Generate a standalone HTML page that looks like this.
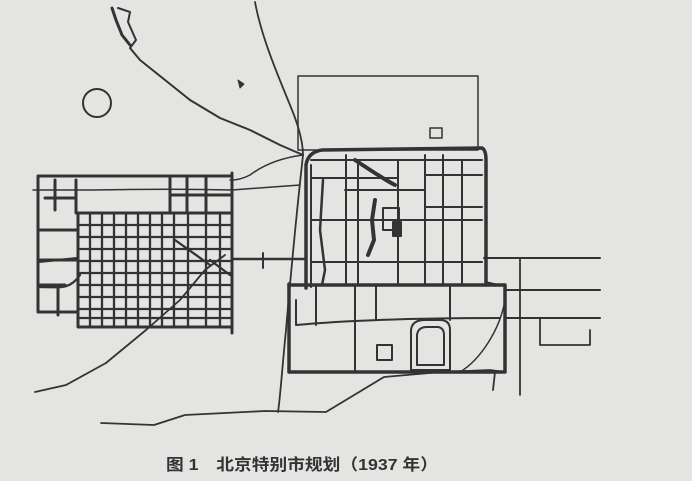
<!DOCTYPE html>
<html><head><meta charset="utf-8"><style>
html,body{margin:0;padding:0;background:#e4e4e2;}
svg{display:block}
</style></head><body>
<svg width="692" height="481" viewBox="0 0 692 481" xmlns="http://www.w3.org/2000/svg">
<rect width="692" height="481" fill="#e4e4e2"/>
<g stroke="#333" fill="none" stroke-linecap="round" stroke-linejoin="round">
<!-- rivers -->
<path d="M118 8 L130 12 L128 22 L136 40 L130 48 L140 60 L165 80 L190 100 L220 118 L250 130 L280 145 L303 155" stroke-width="2"/>
<path d="M112 8 L116 20 L122 35 L130 45" stroke-width="3"/>
<path d="M255 2 C262 40 280 80 292 110 C300 130 303 145 303 155" stroke-width="1.8"/>
<path d="M303 155 C298 200 292 260 286 330 C282 370 280 400 278 412" stroke-width="1.8"/>
<path d="M303 155 C280 158 262 166 250 175 C240 180 234 180 230 180" stroke-width="1.5"/>
<path d="M35 392 L66 385 L106 363 L146 330 L180 300 L205 270 L225 255" stroke-width="1.8"/>
<path d="M101 423 L154 425 L185 415 L265 411 L326 412 L384 377 L441 372 L490 370 L505 372" stroke-width="1.8"/>
<path d="M505 300 C500 330 480 360 460 372" stroke-width="1.5"/>
<path d="M495 372 L493 390" stroke-width="1.8"/>
<!-- circle -->
<circle cx="97" cy="103" r="14" stroke-width="2"/>
<path d="M238 80 L244 84 L240 88 Z" fill="#333" stroke-width="1"/>
<!-- north rectangle -->
<rect x="298" y="76" width="180" height="74" stroke-width="1.5"/>
<rect x="430" y="128" width="12" height="10" stroke-width="1.5"/>
<!-- west city -->
<g stroke-width="3">
<path d="M38 176 L232 176 M232 173 L232 333 M38 176 L38 312 M38 312 L78 312"/>
<path d="M78 213 L232 213 M78 213 L78 327 L232 327"/>
<path d="M76 180 L76 213 M55 180 L55 210 M45 198 L75 198"/>
<path d="M38 260 L78 260 M38 285 L65 285 M58 285 L58 315"/>
<path d="M170 178 L170 213 M187 178 L187 213 M206 178 L206 213 M170 195 L232 195"/>
<path d="M38 230 L78 230"/>
</g>
<g stroke-width="2.3">
<path d="M90 213 L90 327 M102 213 L102 327 M114 213 L114 327 M126 213 L126 327 M138 213 L138 327 M150 213 L150 327 M162 213 L162 327 M174 213 L174 327 M188 213 L188 327 M206 213 L206 327 M220 213 L220 327"/>
<path d="M78 225 L232 225 M78 237 L232 237 M78 249 L232 249 M78 261 L232 261 M78 273 L232 273 M78 285 L232 285 M78 297 L232 297 M78 309 L232 309 M78 318 L232 318"/>
<path d="M33 190 L80 190 C120 190 160 188 232 190 L300 185" stroke-width="1.5"/>
<path d="M38 262 L78 258 M38 287 C60 287 70 290 80 275"/>
<path d="M175 240 L210 265 M210 260 L230 275"/>
</g>
<!-- connectors east-west -->
<path d="M232 259 L306 259" stroke-width="2.5"/>
<path d="M263 253 L263 268" stroke-width="2"/>
<path d="M484 258 L600 258" stroke-width="2"/>
<path d="M505 290 L600 290 M505 318 L600 318" stroke-width="2"/>
<path d="M520 258 L520 395" stroke-width="1.8"/>
<path d="M540 318 L540 345 L590 345 L590 330" stroke-width="1.8"/>
<!-- inner city -->
<g stroke-width="3.5">
<path d="M306 288 L306 165 Q308 152 322 150 L482 148 Q486 150 486 160 L486 283 L495 285"/>
<path d="M289 285 L306 285 M306 285 L486 285"/>
<path d="M289 284 L289 372 L505 372 L505 285 L486 285"/>
</g>
<g stroke-width="2">
<path d="M311 160 L482 160 M311 165 L311 287"/>
<path d="M346 155 L346 285 M358 160 L358 285 M398 160 L398 285 M425 155 L425 285 M443 155 L443 285 M462 160 L462 285"/>
<path d="M311 178 L398 178 M345 190 L425 190 M311 220 L482 220 M311 262 L482 262 M425 175 L482 175 M425 207 L482 207"/>
<path d="M355 160 C370 170 385 180 395 185" stroke-width="4"/>
<rect x="383" y="208" width="16" height="22"/>
<rect x="393" y="222" width="8" height="14" fill="#333"/>
<path d="M375 200 L372 220 L374 240 L368 255" stroke-width="4"/>
<path d="M323 180 L320 230 L325 270 L322 285" stroke-width="2.5"/>
<path d="M296 300 L296 325 C350 320 420 318 500 318"/>
<path d="M355 285 L355 372 M316 285 L316 325 M376 285 L376 320 M450 285 L450 320"/>
<path d="M411 370 L411 330 Q412 320 425 320 L440 320 Q450 320 450 330 L450 370 Z"/>
<path d="M417 365 L417 335 Q418 327 427 327 L438 327 Q444 328 444 335 L444 365 Z"/>
<rect x="377" y="345" width="15" height="15"/>
</g>
</g>
<text x="166" y="470" textLength="272" lengthAdjust="spacingAndGlyphs" font-family="'Liberation Sans','Noto Sans CJK SC',sans-serif" font-size="16" font-weight="bold" fill="#333">图 1　北京特别市规划（1937 年）</text>
</svg>
</body></html>
